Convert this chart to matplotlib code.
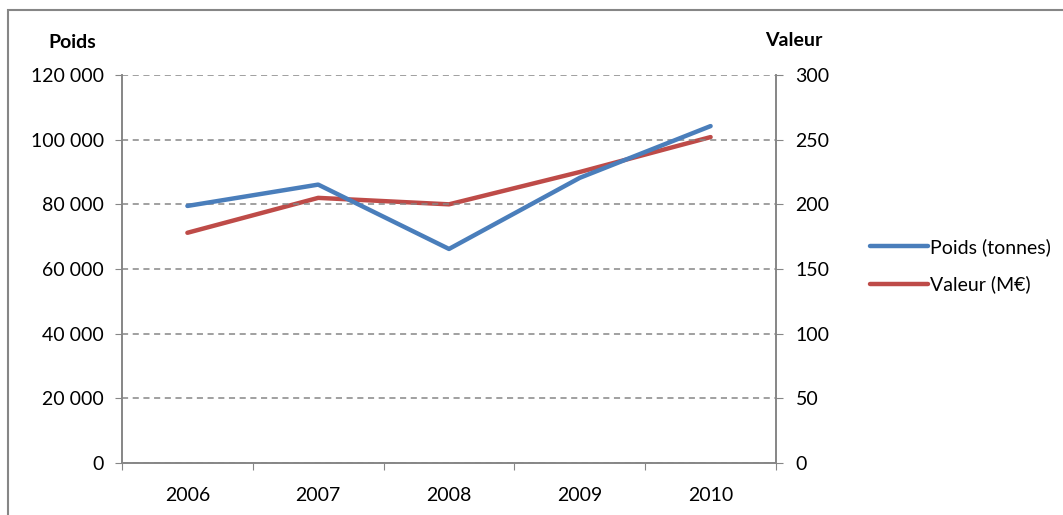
import matplotlib.pyplot as plt
from matplotlib.patches import Rectangle
from matplotlib.ticker import FuncFormatter, FixedLocator

plt.rcParams['font.family'] = ['Lato', 'DejaVu Sans']

# données
annees = ['2006', '2007', '2008', '2009', '2010']
poids = [79500, 86100, 66200, 88200, 104200]   # tonnes
valeur = [178, 205, 200, 225, 252]              # M€

BLEU = '#4A7EBB'
ROUGE = '#BE4B48'
GRIS = '#868686'
FS = 14

fig = plt.figure(figsize=(10.63, 5.15), dpi=100)
ax = fig.add_axes([122 / 1063, 1 - 463 / 515, (776 - 122) / 1063, (463 - 75) / 515])
ax2 = ax.twinx()

x = list(range(len(annees)))
l1, = ax.plot(x, poids, color=BLEU, lw=3.2, solid_capstyle='round', label='Poids (tonnes)')
l2, = ax2.plot(x, valeur, color=ROUGE, lw=3.2, solid_capstyle='round', label='Valeur (M€)')
ax2.set_zorder(ax.get_zorder() - 1)
ax.patch.set_visible(False)

ax.set_xlim(-0.5, len(annees) - 0.5)
ax.set_ylim(0, 120000)
ax2.set_ylim(0, 300)
ax.set_yticks(range(0, 120001, 20000))
ax2.set_yticks(range(0, 301, 50))
ax.yaxis.set_major_formatter(FuncFormatter(lambda v, p: f'{int(v):,}'.replace(',', ' ')))

# ticks de l'axe des x entre les catégories
ax.xaxis.set_major_locator(FixedLocator([i - 0.5 for i in range(len(annees) + 1)]))
ax.xaxis.set_major_formatter(FuncFormatter(lambda v, p: ''))
ax.set_xticks(x, annees, minor=True)
ax.tick_params(axis='x', which='major', length=5, color=GRIS, direction='out')
ax.tick_params(axis='x', which='minor', length=0, pad=17, labelsize=FS)

ax.tick_params(axis='y', length=5, color=GRIS, pad=8, labelsize=FS)
ax2.tick_params(axis='y', length=5, color=GRIS, pad=9, labelsize=FS)

ax.yaxis.grid(True, ls=(0, (4, 3)), color=GRIS, lw=1.1)
ax.set_axisbelow(True)

for a in (ax, ax2):
    a.spines['top'].set_visible(False)
    for s in ('left', 'right', 'bottom'):
        a.spines[s].set_color(GRIS)
        a.spines[s].set_linewidth(1.2)

fig.text(72 / 1063, 1 - 42 / 515, 'Poids', ha='center', va='center', fontsize=FS, fontweight='bold')
fig.text(794 / 1063, 1 - 40 / 515, 'Valeur', ha='center', va='center', fontsize=FS, fontweight='bold')

fig.legend(handles=[l1, l2], loc='center left', bbox_to_anchor=(852 / 1063, 1 - 266 / 515),
           frameon=False, fontsize=FS, handlelength=3.0, handletextpad=0.1, labelspacing=1.0)

fig.patches.append(Rectangle((8 / 1063, -0.05), 1.2, 1 - 10 / 515 + 0.05, transform=fig.transFigure,
                             fill=False, edgecolor=GRIS, lw=1.5))

fig.savefig('out.png', dpi=100)
